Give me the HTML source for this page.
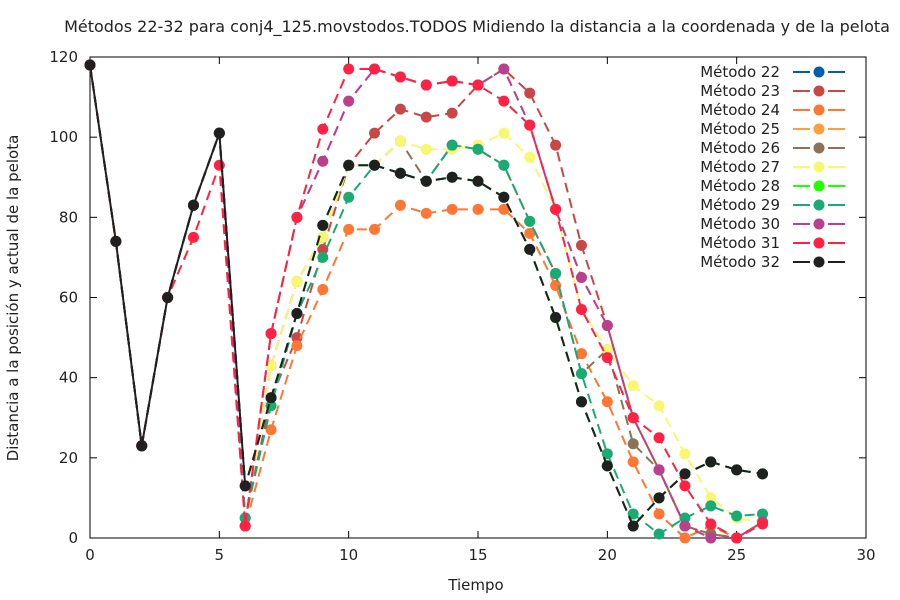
<!DOCTYPE html>
<html><head><meta charset="utf-8"><style>
body{margin:0;background:#fff;}
svg{display:block;font-family:"DejaVu Sans","Liberation Sans",sans-serif;}
</style></head><body>
<svg id="chart" width="900" height="600"></svg>
<script>
const categories = [0,1,2,3,4,5,6,7,8,9,10,11,12,13,14,15,16,17,18,19,20,21,22,23,24,25,26];
const seriesNames = ["Método 22","Método 23","Método 24","Método 25","Método 26","Método 27","Método 28","Método 29","Método 30","Método 31","Método 32"];
const seriesColors = ["#0060ad","#c84848","#ff7733","#ffa040","#8b7355","#f8f870","#22ff00","#1aab75","#b8408e","#ff2244","#202020"];
const s22 = [118,74,23,60,83,101,13,35,56,78,93,93,91,89,90,89,85,72,55,34,18,3,10,16,19,17,16];
const s23 = [118,74,23,60,83,101,5,35,50,72,93,101,107,105,106,113,117,111,98,73,53,30,17,3,1,0,4];
const s24 = [118,74,23,60,83,101,3,27,48,62,77,77,83,81,82,82,82,76,63,46,34,19,6,0,3,0,4];
const s25 = [118,74,23,60,83,101,3,51,80,94,109,117,115,113,114,113,117,103,82,65,53,30,17,3,0,0,4];
const s26 = [118,74,23,60,83,101,5,43,64,75,93,93,99,89,98,97,93,79,66,41,47,23.5,17,3,1,0,4];
const s27 = [118,74,23,60,83,101,5,43,64,75,93,93,99,97,97,98,101,95,82,57,47,38,33,21,10,5,4];
const s28 = [118,74,23,60,83,101,13,35,56,78,93,93,91,89,90,89,85,72,55,34,18,3,10,16,19,17,16];
const s29 = [118,74,23,60,83,101,5,33,56,70,85,93,91,89,98,97,93,79,66,41,21,6,1,5,8,5.5,6];
const s30 = [118,74,23,60,83,101,3,51,80,94,109,117,115,113,114,113,117,103,82,65,53,30,17,3,0,0,4];
const s31 = [118,74,23,60,75,93,3,51,80,102,117,117,115,113,114,113,109,103,82,57,45,30,25,13,3.5,0,3.5];
const s32 = [118,74,23,60,83,101,13,35,56,78,93,93,91,89,90,89,85,72,55,34,18,3,10,16,19,17,16];
const seriesValues = [s22,s23,s24,s25,s26,s27,s28,s29,s30,s31,s32];
const dashed = [true,true,true,true,true,true,true,true,true,true,true];
const xTicks = [0,5,10,15,20,25,30];
const yTicks = [0,20,40,60,80,100,120];

const L=90,R=866,T=57,B=538;
const xS=v=>L+(v-0)/(30-0)*(R-L);
const yS=v=>B-(v-0)/(120-0)*(B-T);
const svg=document.getElementById('chart');
const NS='http://www.w3.org/2000/svg';
function mk(tag,attrs,parent){const e=document.createElementNS(NS,tag);for(const k in attrs)e.setAttribute(k,attrs[k]);(parent||svg).appendChild(e);return e;}

const title=mk('text',{x:477,y:32,'text-anchor':'middle','font-size':16,fill:'#222'});
title.textContent='Métodos 22-32 para conj4_125.movstodos.TODOS Midiendo la distancia a la coordenada y de la pelota';



const frame=mk('rect',{x:L,y:T,width:R-L,height:B-T,fill:'none',stroke:'#000','stroke-width':1});



xTicks.forEach(t=>{
  const x=xS(t);
  mk('line',{x1:x,y1:B,x2:x,y2:B-7,stroke:'#000'});
  mk('line',{x1:x,y1:T,x2:x,y2:T+7,stroke:'#000'});
  const tx=mk('text',{x:x,y:B+22,'text-anchor':'middle','font-size':15,fill:'#222'});
  tx.textContent=t;
  
  
});
yTicks.forEach(t=>{
  const y=yS(t);
  mk('line',{x1:L,y1:y,x2:L+7,y2:y,stroke:'#000'});
  mk('line',{x1:R,y1:y,x2:R-7,y2:y,stroke:'#000'});
  const tx=mk('text',{x:L-12,y:y+5,'text-anchor':'end','font-size':15,fill:'#222'});
  tx.textContent=t;
  
  
});
const xt=mk('text',{x:476,y:590,'text-anchor':'middle','font-size':15,fill:'#222'});
xt.textContent='Tiempo';


const yt=mk('text',{x:0,y:0,'text-anchor':'middle','font-size':15,fill:'#222',transform:'translate(18,298) rotate(-90)'});
yt.textContent='Distancia a la posición y actual de la pelota';



function marker(g,x,y,c){return mk('circle',{cx:x,cy:y,r:5.5,fill:c},g);}

seriesValues.forEach((vals,i)=>{
  const g=mk('g',{});
  
  
  const pts=vals.map((v,j)=>xS(categories[j])+','+yS(v)).join(' ');
  const ln=mk('polyline',{points:pts,fill:'none',stroke:seriesColors[i],'stroke-width':2,'stroke-dasharray':dashed[i]?'10,6':'none'},g);
  
  
  if(i===seriesValues.length-1){
    const early=vals.slice(0,7).map((v,j)=>xS(categories[j])+','+yS(v)).join(' ');
    const ov=mk('polyline',{points:early,fill:'none',stroke:seriesColors[i],'stroke-width':2},g);
    
    
  }
  vals.forEach((v,j)=>{
    const m=marker(g,xS(categories[j]),yS(v),seriesColors[i]);
    
    
  });
  const ly=72+i*19;
  const lg=mk('g',{});
  
  
  const lt=mk('text',{x:780,y:ly+5,'text-anchor':'end','font-size':15,fill:'#222'},lg);
  lt.textContent=seriesNames[i];
  mk('line',{x1:793,y1:ly,x2:810,y2:ly,stroke:seriesColors[i],'stroke-width':2},lg);
  mk('line',{x1:828,y1:ly,x2:845,y2:ly,stroke:seriesColors[i],'stroke-width':2},lg);
  marker(lg,819,ly,seriesColors[i]);
});
</script>
</body></html>
